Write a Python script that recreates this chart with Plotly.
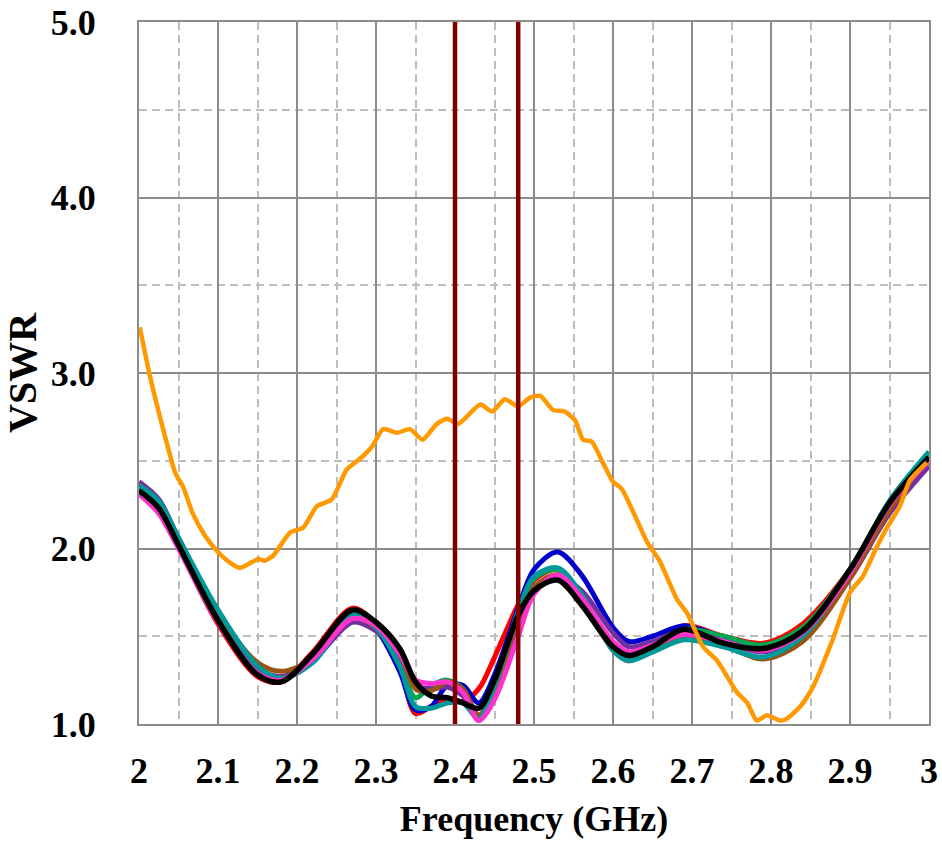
import plotly.graph_objects as go

# Frequency sample points (GHz) shared by the eight clustered VSWR curves
freq = [2.00, 2.025, 2.05, 2.10, 2.15, 2.18, 2.22, 2.27, 2.30, 2.33, 2.35, 2.37, 2.39, 2.41,
        2.43, 2.45, 2.48, 2.50, 2.53, 2.56, 2.60, 2.62, 2.65, 2.69, 2.74, 2.79, 2.84,
        2.90, 2.95, 3.00]

vswr_red = [2.33, 2.22, 2.01, 1.57, 1.27, 1.24, 1.41, 1.66, 1.57, 1.33, 1.06, 1.10, 1.14, 1.13,
            1.20, 1.38, 1.68, 1.82, 1.88, 1.72, 1.42, 1.36, 1.45, 1.56, 1.50, 1.46, 1.57,
            1.88, 2.24, 2.52]
vswr_blue = [2.35, 2.25, 2.03, 1.60, 1.29, 1.26, 1.38, 1.62, 1.54, 1.30, 1.08, 1.10, 1.22, 1.22,
             1.12, 1.28, 1.66, 1.88, 1.98, 1.85, 1.55, 1.47, 1.50, 1.56, 1.49, 1.42, 1.52,
             1.86, 2.24, 2.50]
vswr_green = [2.35, 2.25, 2.03, 1.61, 1.30, 1.25, 1.37, 1.62, 1.55, 1.34, 1.15, 1.22, 1.25, 1.20,
              1.02, 1.20, 1.64, 1.83, 1.88, 1.72, 1.44, 1.38, 1.44, 1.54, 1.50, 1.45, 1.55,
              1.88, 2.27, 2.55]
vswr_purple = [2.38, 2.28, 2.06, 1.63, 1.32, 1.27, 1.36, 1.58, 1.53, 1.38, 1.22, 1.20, 1.21, 1.16,
               1.05, 1.18, 1.56, 1.76, 1.84, 1.76, 1.52, 1.44, 1.47, 1.53, 1.47, 1.41, 1.50,
               1.83, 2.20, 2.47]
vswr_brown = [2.36, 2.26, 2.05, 1.63, 1.35, 1.30, 1.37, 1.61, 1.55, 1.40, 1.20, 1.19, 1.24, 1.20,
              1.05, 1.20, 1.60, 1.78, 1.85, 1.72, 1.45, 1.38, 1.42, 1.50, 1.45, 1.37, 1.47,
              1.83, 2.22, 2.52]
vswr_teal = [2.36, 2.27, 2.06, 1.65, 1.33, 1.26, 1.35, 1.62, 1.55, 1.33, 1.10, 1.09, 1.12, 1.12,
             1.03, 1.22, 1.64, 1.84, 1.89, 1.74, 1.42, 1.36, 1.41, 1.48, 1.44, 1.38, 1.50,
             1.87, 2.27, 2.55]
vswr_pink = [2.31, 2.20, 2.00, 1.58, 1.29, 1.25, 1.37, 1.60, 1.56, 1.40, 1.25, 1.23, 1.24, 1.18,
             1.02, 1.14, 1.50, 1.74, 1.85, 1.72, 1.47, 1.41, 1.45, 1.51, 1.47, 1.42, 1.52,
             1.86, 2.25, 2.50]
vswr_black = [2.33, 2.23, 2.02, 1.59, 1.28, 1.24, 1.40, 1.65, 1.58, 1.43, 1.24, 1.16, 1.15, 1.12,
              1.09, 1.25, 1.62, 1.76, 1.82, 1.68, 1.44, 1.39, 1.44, 1.54, 1.46, 1.43, 1.53,
              1.88, 2.26, 2.52]

# Orange reference curve, sampled on its own frequency points
freq_orange = [2.001, 2.014, 2.030, 2.046, 2.056, 2.068, 2.084, 2.100, 2.115, 2.128, 2.151,
               2.159, 2.170, 2.191, 2.208, 2.225, 2.244, 2.263, 2.282, 2.295, 2.309, 2.327,
               2.343, 2.359, 2.377, 2.390, 2.404, 2.432, 2.447, 2.463, 2.480, 2.495, 2.508,
               2.524, 2.539, 2.552, 2.562, 2.573, 2.587, 2.600, 2.611, 2.644, 2.659, 2.681,
               2.694, 2.714, 2.732, 2.757, 2.770, 2.782, 2.795, 2.811, 2.820, 2.837, 2.853,
               2.878, 2.900, 2.916, 2.934, 2.947, 2.963, 2.976, 2.997]
vswr_orange = [3.26, 2.98, 2.69, 2.43, 2.35, 2.20, 2.07, 1.98, 1.92, 1.89, 1.94,
               1.93, 1.96, 2.09, 2.12, 2.24, 2.28, 2.45, 2.52, 2.58, 2.68, 2.66,
               2.68, 2.62, 2.71, 2.74, 2.71, 2.82, 2.78, 2.85, 2.81, 2.86, 2.87,
               2.79, 2.78, 2.73, 2.62, 2.61, 2.49, 2.38, 2.34, 2.03, 1.93, 1.71,
               1.63, 1.44, 1.36, 1.18, 1.12, 1.02, 1.05, 1.02, 1.03, 1.10, 1.21,
               1.48, 1.75, 1.84, 2.01, 2.12, 2.24, 2.39, 2.49]

# Band edges (GHz)
band_edges = [2.40, 2.48]

x_ticks = [2.0, 2.1, 2.2, 2.3, 2.4, 2.5, 2.6, 2.7, 2.8, 2.9, 3.0]
x_tick_text = ["2", "2.1", "2.2", "2.3", "2.4", "2.5", "2.6", "2.7", "2.8", "2.9", "3"]
y_ticks = [1.0, 2.0, 3.0, 4.0, 5.0]
y_tick_text = ["1.0", "2.0", "3.0", "4.0", "5.0"]

cluster = [
    ("red", vswr_red, "#FF0000", 5),
    ("blue", vswr_blue, "#0000CC", 5),
    ("green", vswr_green, "#00A651", 5),
    ("purple", vswr_purple, "#7030A0", 5),
    ("brown", vswr_brown, "#9C5412", 5),
    ("teal", vswr_teal, "#009999", 5),
    ("pink", vswr_pink, "#FF33CC", 5),
    ("black", vswr_black, "#000000", 5.5),
]

fig = go.Figure()
for name, vals, color, w in cluster:
    fig.add_trace(go.Scatter(
        x=freq, y=vals, mode="lines", name=name,
        line=dict(color=color, width=w, shape="spline", smoothing=0.9),
        showlegend=False, hoverinfo="skip"))

fig.add_trace(go.Scatter(
    x=freq_orange, y=vswr_orange, mode="lines", name="orange",
    line=dict(color="#FF9900", width=4.5, shape="spline", smoothing=0.6),
    showlegend=False, hoverinfo="skip"))

for fe in band_edges:
    fig.add_trace(go.Scatter(
        x=[fe, fe], y=[1.0, 5.0], mode="lines", name=f"{fe} GHz",
        line=dict(color="#800000", width=4.5),
        showlegend=False, hoverinfo="skip"))

font_family = "Liberation Serif, Times New Roman, serif"

fig.update_layout(
    width=942, height=841,
    margin=dict(l=139, r=13, t=22, b=117),
    paper_bgcolor="white", plot_bgcolor="white",
    font=dict(family=font_family, color="black"),
    xaxis=dict(
        range=[2.0, 3.0], tickvals=x_ticks, ticktext=x_tick_text,
        tickfont=dict(family=font_family, size=36, weight="bold"),
        ticklabelstandoff=14, automargin=False,
        showgrid=True, gridcolor="#8C8C8C", gridwidth=2,
        minor=dict(dtick=0.05, tick0=2.0, showgrid=True, gridcolor="#BDBDBD",
                   griddash="8px,5px", gridwidth=1.5),
        showline=True, mirror=True, linecolor="#8C8C8C", linewidth=2,
        zeroline=False, ticks="",
        title=dict(text="Frequency (GHz)", standoff=16,
                   font=dict(family=font_family, size=36, weight="bold")),
    ),
    yaxis=dict(
        range=[1.0, 5.0], tickvals=y_ticks, ticktext=y_tick_text,
        tickfont=dict(family=font_family, size=36, weight="bold"),
        ticklabelstandoff=34, automargin=False,
        showgrid=True, gridcolor="#8C8C8C", gridwidth=2,
        minor=dict(dtick=0.5, tick0=1.0, showgrid=True, gridcolor="#BDBDBD",
                   griddash="8px,5px", gridwidth=1.5),
        showline=True, mirror=True, linecolor="#8C8C8C", linewidth=2,
        zeroline=False, ticks="",
        title=dict(text="VSWR", standoff=3,
                   font=dict(family=font_family, size=40, weight="bold")),
    ),
)

fig.write_html("out.html")
